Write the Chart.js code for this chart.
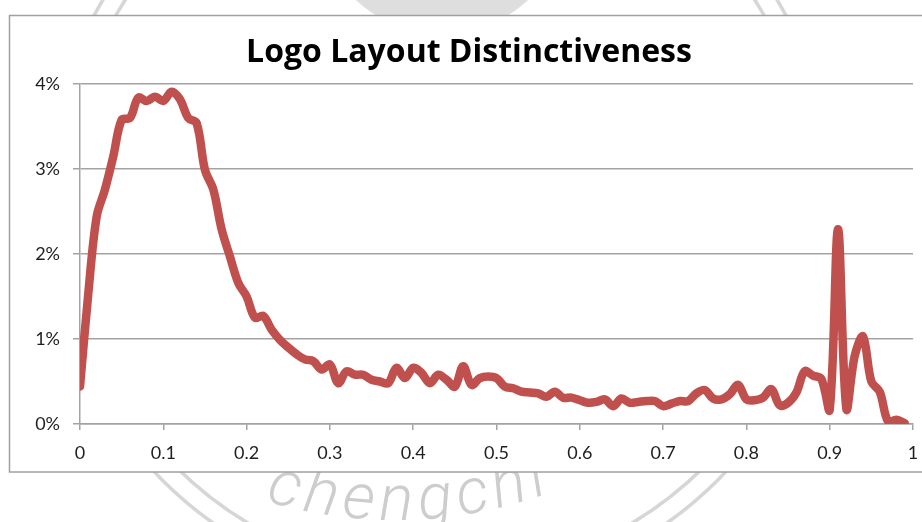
<!DOCTYPE html>
<html>
<head>
<meta charset="utf-8">
<title>Logo Layout Distinctiveness</title>
<script src="https://cdn.jsdelivr.net/npm/chart.js@4.4.1/dist/chart.umd.min.js"></script>
<style>
    html, body { margin: 0; padding: 0; background: #fff; overflow: hidden; }
    #wrap { width: 922px; height: 522px; }
    canvas { display: block; }
</style>
</head>
<body>
<div id="wrap"><canvas id="distinctivenessChart" width="922" height="522"></canvas></div>
<script>
// share of logos (in %) per distinctiveness bin, bins start at 0.00, 0.01, ... 0.99
const binStep = 0.01;
const sharePercent = [
    0.44, 1.54, 2.44, 2.76, 3.15, 3.58, 3.60, 3.84, 3.80, 3.85,
    3.80, 3.91, 3.82, 3.60, 3.54, 2.99, 2.76, 2.29, 1.97, 1.66,
    1.50, 1.25, 1.27, 1.11, 0.99, 0.90, 0.82, 0.76, 0.74, 0.64,
    0.70, 0.48, 0.62, 0.58, 0.58, 0.52, 0.50, 0.48, 0.66, 0.54,
    0.66, 0.60, 0.48, 0.58, 0.52, 0.44, 0.68, 0.46, 0.54, 0.56,
    0.54, 0.44, 0.42, 0.38, 0.37, 0.36, 0.32, 0.38, 0.31, 0.31,
    0.28, 0.25, 0.26, 0.29, 0.21, 0.30, 0.25, 0.26, 0.27, 0.27,
    0.21, 0.24, 0.27, 0.27, 0.36, 0.40, 0.30, 0.29, 0.35, 0.46,
    0.29, 0.28, 0.31, 0.41, 0.22, 0.25, 0.37, 0.62, 0.57, 0.53,
    0.17, 2.29, 0.18, 0.80, 1.03, 0.50, 0.38, 0.03, 0.05, 0.01
];
const xTickLabels = ["0", "0.1", "0.2", "0.3", "0.4", "0.5", "0.6", "0.7", "0.8", "0.9", "1"];
const yTickLabels = ["0%", "1%", "2%", "3%", "4%"];

const axisGray = "#a3a3a3";
const labelFont = { family: "Lato, 'Open Sans', sans-serif", size: 18 };

// seal lettering runs left to right along an arc, tops towards the centre
function drawArcText(ctx, text, cx, cy, radius, startAngle, spacing) {
    let angle = startAngle;
    for (const ch of text) {
        const w = ctx.measureText(ch).width;
        const mid = angle + (w / 2) / radius;
        ctx.save();
        ctx.translate(cx + radius * Math.sin(mid), cy + radius * Math.cos(mid));
        ctx.rotate(-mid);
        ctx.fillText(ch, -w / 2, 0);
        ctx.restore();
        angle += (w + spacing) / radius;
    }
}

// paper background: faint university seal behind a framed white chart box
const sealBackdrop = {
    id: "sealBackdrop",
    beforeDraw(chart) {
        const ctx = chart.ctx;
        ctx.save();
        ctx.fillStyle = "#ffffff";
        ctx.fillRect(0, 0, chart.width, chart.height);

        ctx.strokeStyle = "#d6d6d6";
        ctx.lineWidth = 3.5;
        for (const r of [393, 374]) {
            ctx.beginPath();
            ctx.arc(440, 202, r, 0, Math.PI * 2);
            ctx.stroke();
        }
        ctx.fillStyle = "#dedede";
        ctx.beginPath();
        ctx.arc(442, -92, 126, 0, Math.PI * 2);
        ctx.fill();

        ctx.fillStyle = "#cdcdcd";
        ctx.font = "italic 300 64px Roboto, sans-serif";
        drawArcText(ctx, "chengchi", 395, 70, 450, -0.293, 6);
        ctx.restore();

        ctx.save();
        ctx.fillStyle = "#ffffff";
        ctx.strokeStyle = "#a0a0a0";
        ctx.lineWidth = 1.5;
        ctx.fillRect(9.5, 15.5, 940, 456.5);
        ctx.strokeRect(9.5, 15.5, 940, 456.5);
        ctx.restore();
    }
};

const points = sharePercent.map((v, i) => ({ x: +(i * binStep).toFixed(2), y: v }));

new Chart(document.getElementById("distinctivenessChart"), {
    type: "line",
    data: {
        datasets: [{
            label: "Logo Layout Distinctiveness",
            data: points,
            borderColor: "#c0504d",
            borderWidth: 8.5,
            borderCapStyle: "round",
            borderJoinStyle: "round",
            pointRadius: 0,
            tension: 0.35,
            fill: false
        }]
    },
    options: {
        responsive: false,
        animation: false,
        devicePixelRatio: 1,
        layout: { padding: { left: 25, right: 9, top: 0, bottom: 50 } },
        plugins: {
            legend: { display: false },
            tooltip: { enabled: false },
            title: {
                display: true,
                text: "Logo Layout Distinctiveness",
                color: "#000000",
                font: { family: "'Open Sans', Lato, sans-serif", size: 32, weight: "bold", lineHeight: 1.2 },
                padding: { top: 34, bottom: 11.6 }
            }
        },
        scales: {
            x: {
                type: "linear",
                min: 0,
                max: 1,
                afterFit(scale) {
                    scale.height = 48;
                    // let the end labels hang into the outer padding
                    scale.paddingLeft = 0;
                    scale.paddingRight = 0;
                },
                ticks: {
                    stepSize: 0.1,
                    autoSkip: false,
                    maxRotation: 0,
                    padding: 12,
                    color: "#1f1f1f",
                    font: labelFont,
                    callback: (value, index) => xTickLabels[index]
                },
                grid: {
                    drawOnChartArea: false,
                    drawTicks: true,
                    tickLength: 6,
                    color: axisGray,
                    lineWidth: 1.5
                },
                border: { color: axisGray, width: 1.5 }
            },
            y: {
                min: 0,
                max: 4,
                afterFit(scale) { scale.width = 55; },
                ticks: {
                    stepSize: 1,
                    padding: 13,
                    color: "#1f1f1f",
                    font: labelFont,
                    callback: (value, index) => yTickLabels[index]
                },
                grid: {
                    color: axisGray,
                    lineWidth: 1.5,
                    tickLength: 7
                },
                border: { color: axisGray, width: 1.5 }
            }
        }
    },
    plugins: [sealBackdrop]
});
</script>
</body>
</html>
